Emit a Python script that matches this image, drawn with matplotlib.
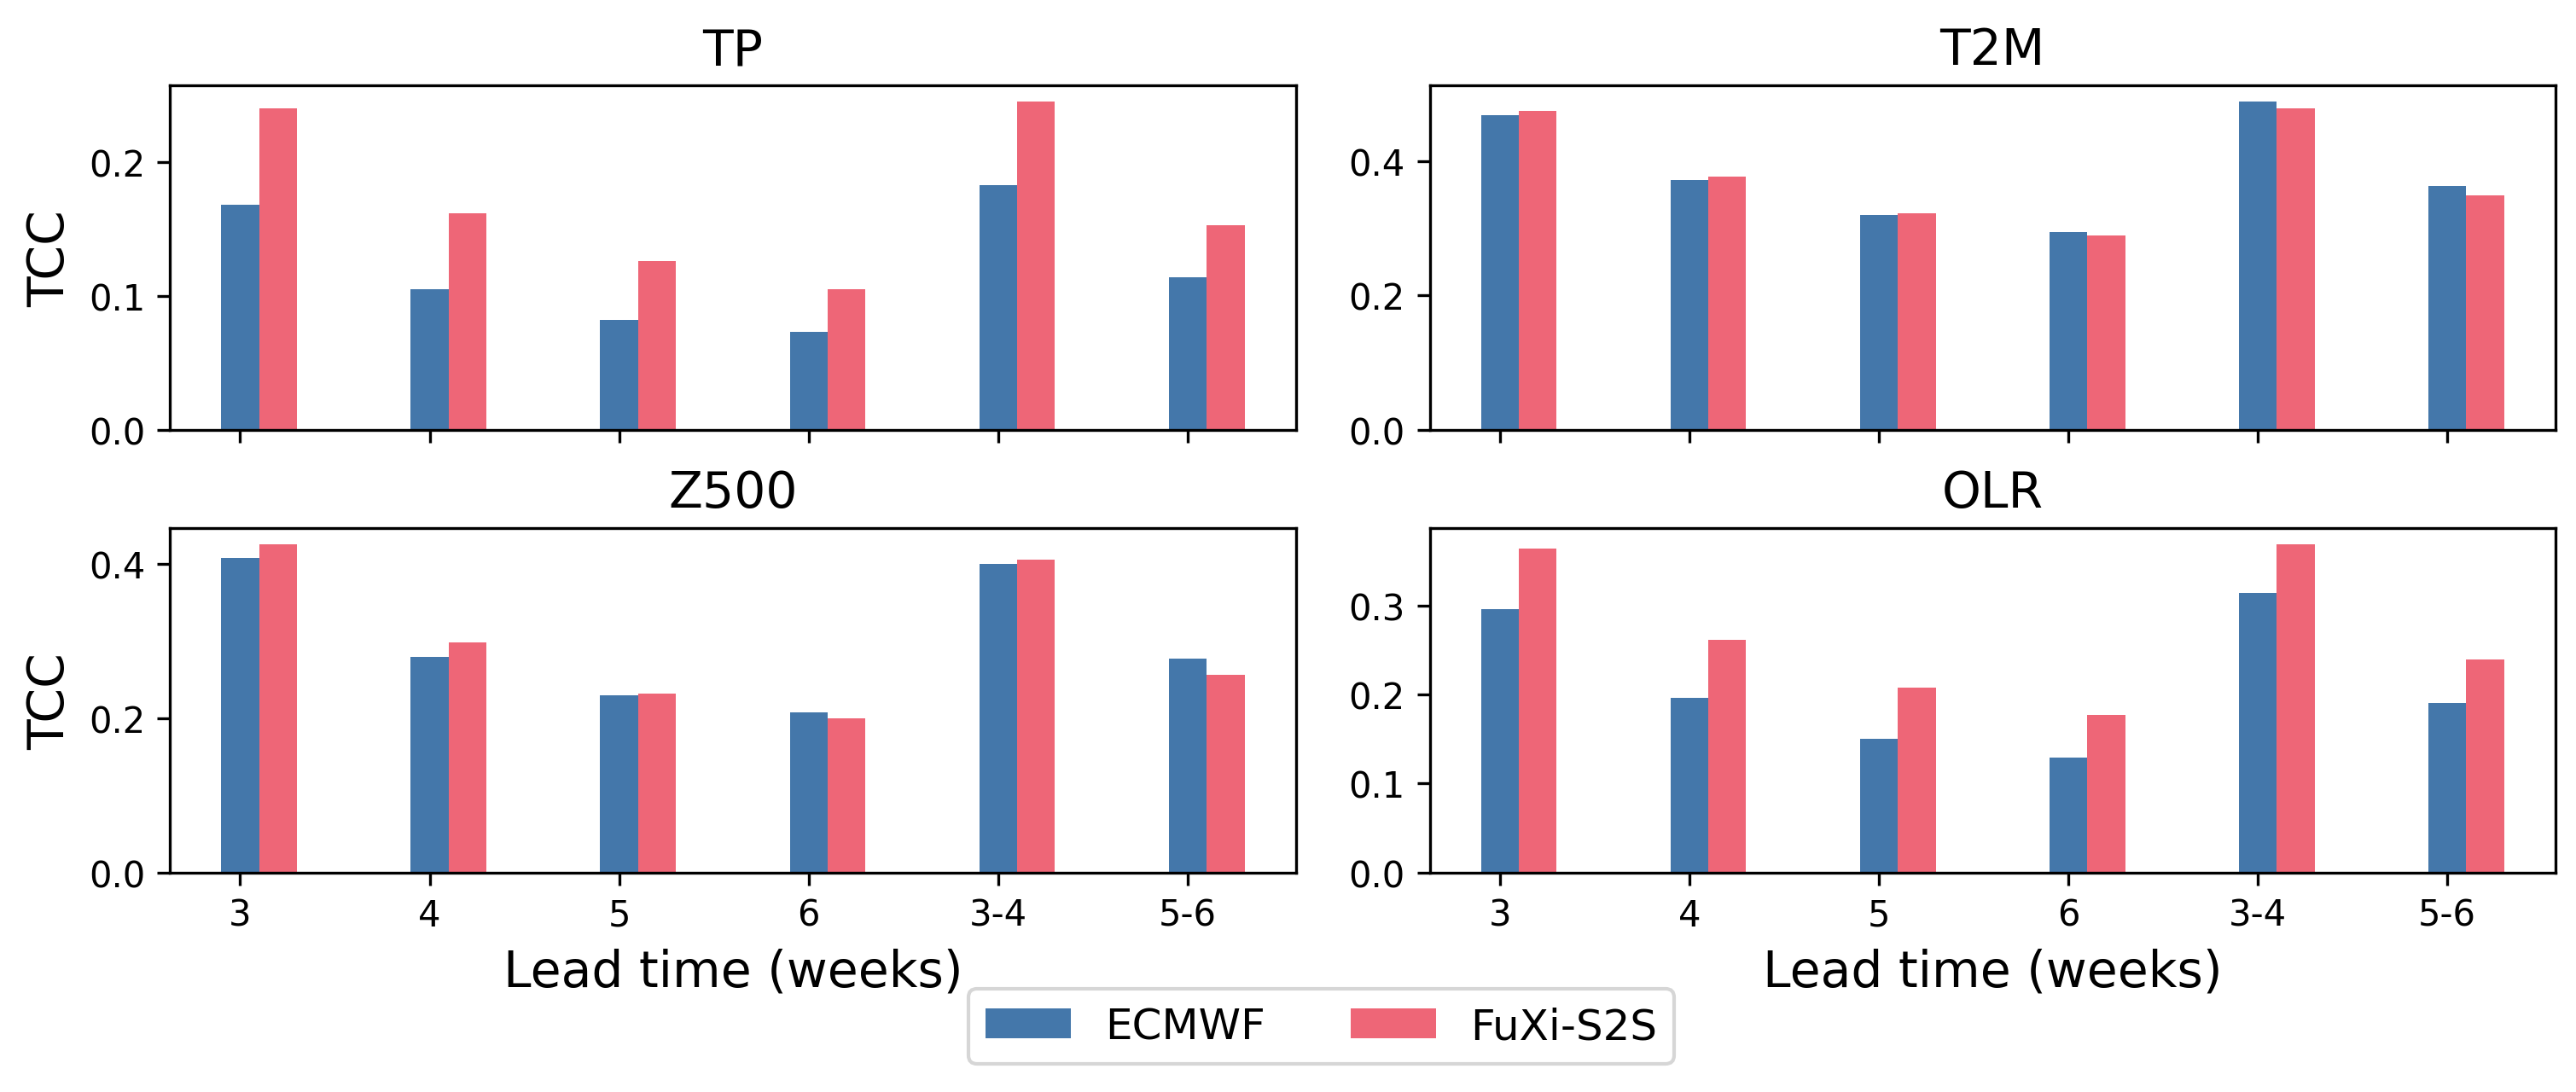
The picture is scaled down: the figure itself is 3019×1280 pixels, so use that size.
import matplotlib
matplotlib.use("Agg")
import matplotlib.pyplot as plt
import numpy as np

# lead times (weeks)
leads = ["3", "4", "5", "6", "3-4", "5-6"]
variables = ["TP", "T2M", "Z500", "OLR"]

# TCC values
ecmwf_tp = [0.168, 0.105, 0.082, 0.073, 0.183, 0.114]
fuxi_tp = [0.240, 0.162, 0.126, 0.105, 0.245, 0.153]

ecmwf_t2m = [0.468, 0.372, 0.320, 0.294, 0.488, 0.363]
fuxi_t2m = [0.475, 0.377, 0.322, 0.289, 0.479, 0.349]

ecmwf_z500 = [0.408, 0.279, 0.229, 0.207, 0.400, 0.277]
fuxi_z500 = [0.425, 0.298, 0.232, 0.200, 0.405, 0.256]

ecmwf_olr = [0.296, 0.196, 0.150, 0.129, 0.314, 0.191]
fuxi_olr = [0.364, 0.262, 0.208, 0.177, 0.369, 0.240]

ecmwf_all = [ecmwf_tp, ecmwf_t2m, ecmwf_z500, ecmwf_olr]
fuxi_all = [fuxi_tp, fuxi_t2m, fuxi_z500, fuxi_olr]

c_ecmwf = "#4477AA"
c_fuxi = "#EE6677"
width = 0.2

fig = plt.figure(figsize=(3019 / 300, 1281 / 300), dpi=300)

# axes boxes [left, bottom, width, height] in figure fraction
lefts = [0.066, 0.555]
bottoms = [0.606, 0.201]
w_ax = 0.437
h_ax = 0.315

x = np.arange(len(leads))
for i, var in enumerate(variables):
    row, col = divmod(i, 2)
    ax = fig.add_axes([lefts[col], bottoms[row], w_ax, h_ax])
    ax.bar(x, ecmwf_all[i], width, color=c_ecmwf, label="ECMWF")
    ax.bar(x + width, fuxi_all[i], width, color=c_fuxi, label="FuXi-S2S")
    ax.set_title(var, fontsize=14)
    ax.set_xticks(x)
    if row == 1:
        ax.set_xticklabels(leads)
        ax.set_xlabel("Lead time (weeks)", fontsize=14)
    else:
        ax.set_xticklabels([])
    if col == 0:
        ax.set_ylabel("TCC", fontsize=14)

handles, labels = ax.get_legend_handles_labels()
fig.legend(handles, labels, loc="lower center", bbox_to_anchor=(0.513, 0.006),
           ncol=2, fontsize=12)

fig.savefig("out.png", dpi=300)
